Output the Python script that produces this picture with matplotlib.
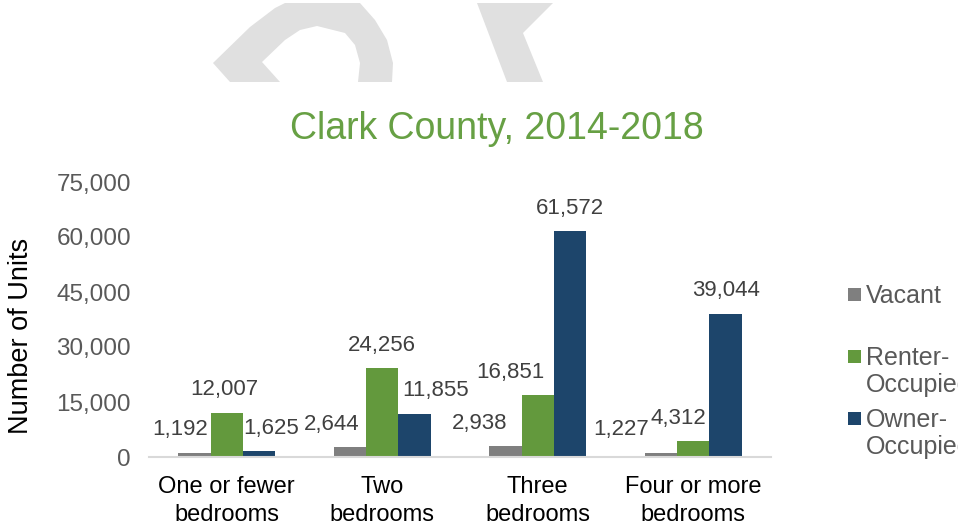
import matplotlib
matplotlib.use("Agg")
import matplotlib.pyplot as plt
from matplotlib.patches import Polygon, Rectangle
import numpy as np

plt.rcParams['font.family'] = ['Liberation Sans', 'DejaVu Sans']

categories = ["One or fewer\nbedrooms", "Two\nbedrooms", "Three\nbedrooms", "Four or more\nbedrooms"]
series_names = ["Vacant", "Renter-\nOccupied", "Owner-\nOccupied"]
vacant = [1192, 2644, 2938, 1227]
renter = [12007, 24256, 16851, 4312]
owner = [1625, 11855, 61572, 39044]
yticks = [0, 15000, 30000, 45000, 60000, 75000]
title = "Clark County, 2014-2018"
ylabel = "Number of Units"

colors = ["#7f7f7f", "#63993d", "#1d456b"]
title_color = "#67a044"

W, H = 958, 527
fig = plt.figure(figsize=(W / 100, H / 100), dpi=100)
PT = 72 / 100  # points per pixel

# watermark (decorative, figure pixel coordinates)
def px(pts):
    return [(x / W, 1 - y / H) for x, y in pts]
wm1 = [(230, 82), (213, 63), (250, 27), (275, 8), (285, 3), (360, 3), (375, 20), (387, 40),
       (393, 63), (392, 82), (358, 82), (360, 63), (355, 45), (345, 33), (317, 26), (300, 30),
       (285, 40), (262, 62), (280, 82)]
wm2 = [(477, 3), (553, 3), (523, 33), (543, 82), (507, 82)]
for poly in (wm1, wm2):
    fig.patches.append(Polygon(px(poly), closed=True, transform=fig.transFigure,
                               facecolor="#e0e0e0", edgecolor="none", zorder=0))

ax = fig.add_axes([149 / W, 1 - 457 / H, (771 - 149) / W, (457 - 182) / H])
ax.set_facecolor("none")

x = np.arange(len(categories))
bw = 0.208
series = [vacant, renter, owner]
# horizontal pixel shift of each data label (Excel's overlap avoidance)
label_dx = [[-14, -18, -26, -40],
            [-2, 0, -27, -15],
            [12, 21, 0, 0]]
for i, (vals, c) in enumerate(zip(series, colors)):
    pos = x + (i - 1) * bw
    ax.bar(pos, vals, width=bw, color=c, zorder=2)
    for j, (xp, v) in enumerate(zip(pos, vals)):
        ax.annotate(f"{v:,}", (xp, v), xytext=(label_dx[i][j] * PT, 23 * PT),
                    textcoords="offset points", ha="center", va="center",
                    fontsize=16, color="#404040")

ax.set_xlim(-0.5, len(categories) - 0.5)
ax.set_ylim(0, 75000)
ax.set_yticks(yticks)
ax.set_yticklabels([f"{t:,}" for t in yticks], fontsize=17.5, color="#595959")
ax.set_xticks(x)
ax.set_xticklabels(categories, fontsize=17, color="black", linespacing=1.3)
ax.tick_params(axis="both", length=0)
ax.tick_params(axis="y", pad=13)
ax.tick_params(axis="x", pad=14)
for s in ["top", "right", "left"]:
    ax.spines[s].set_visible(False)
ax.spines["bottom"].set_color("#d9d9d9")
ax.spines["bottom"].set_linewidth(1.5)

fig.text(21 / W, 1 - 336 / H, ylabel, rotation=90, ha="center", va="center",
         fontsize=19.5, color="black")

fig.text(497 / W, 1 - 139 / H, title, ha="center", va="baseline", fontsize=27, color=title_color)

# legend (manual to match stacked two-line labels)
leg_y = [294, 356, 418]
for name, c, yy in zip(series_names, colors, leg_y):
    fig.patches.append(Rectangle((848 / W, 1 - (yy + 6.5) / H), 13 / W, 13 / H,
                                 transform=fig.transFigure, facecolor=c, edgecolor="none"))
    for k, line in enumerate(name.split("\n")):
        fig.text(866 / W, 1 - (yy + 27 * k + 9) / H, line, ha="left", va="baseline",
                 fontsize=18, color="#595959")

fig.savefig("out.png", dpi=100)
